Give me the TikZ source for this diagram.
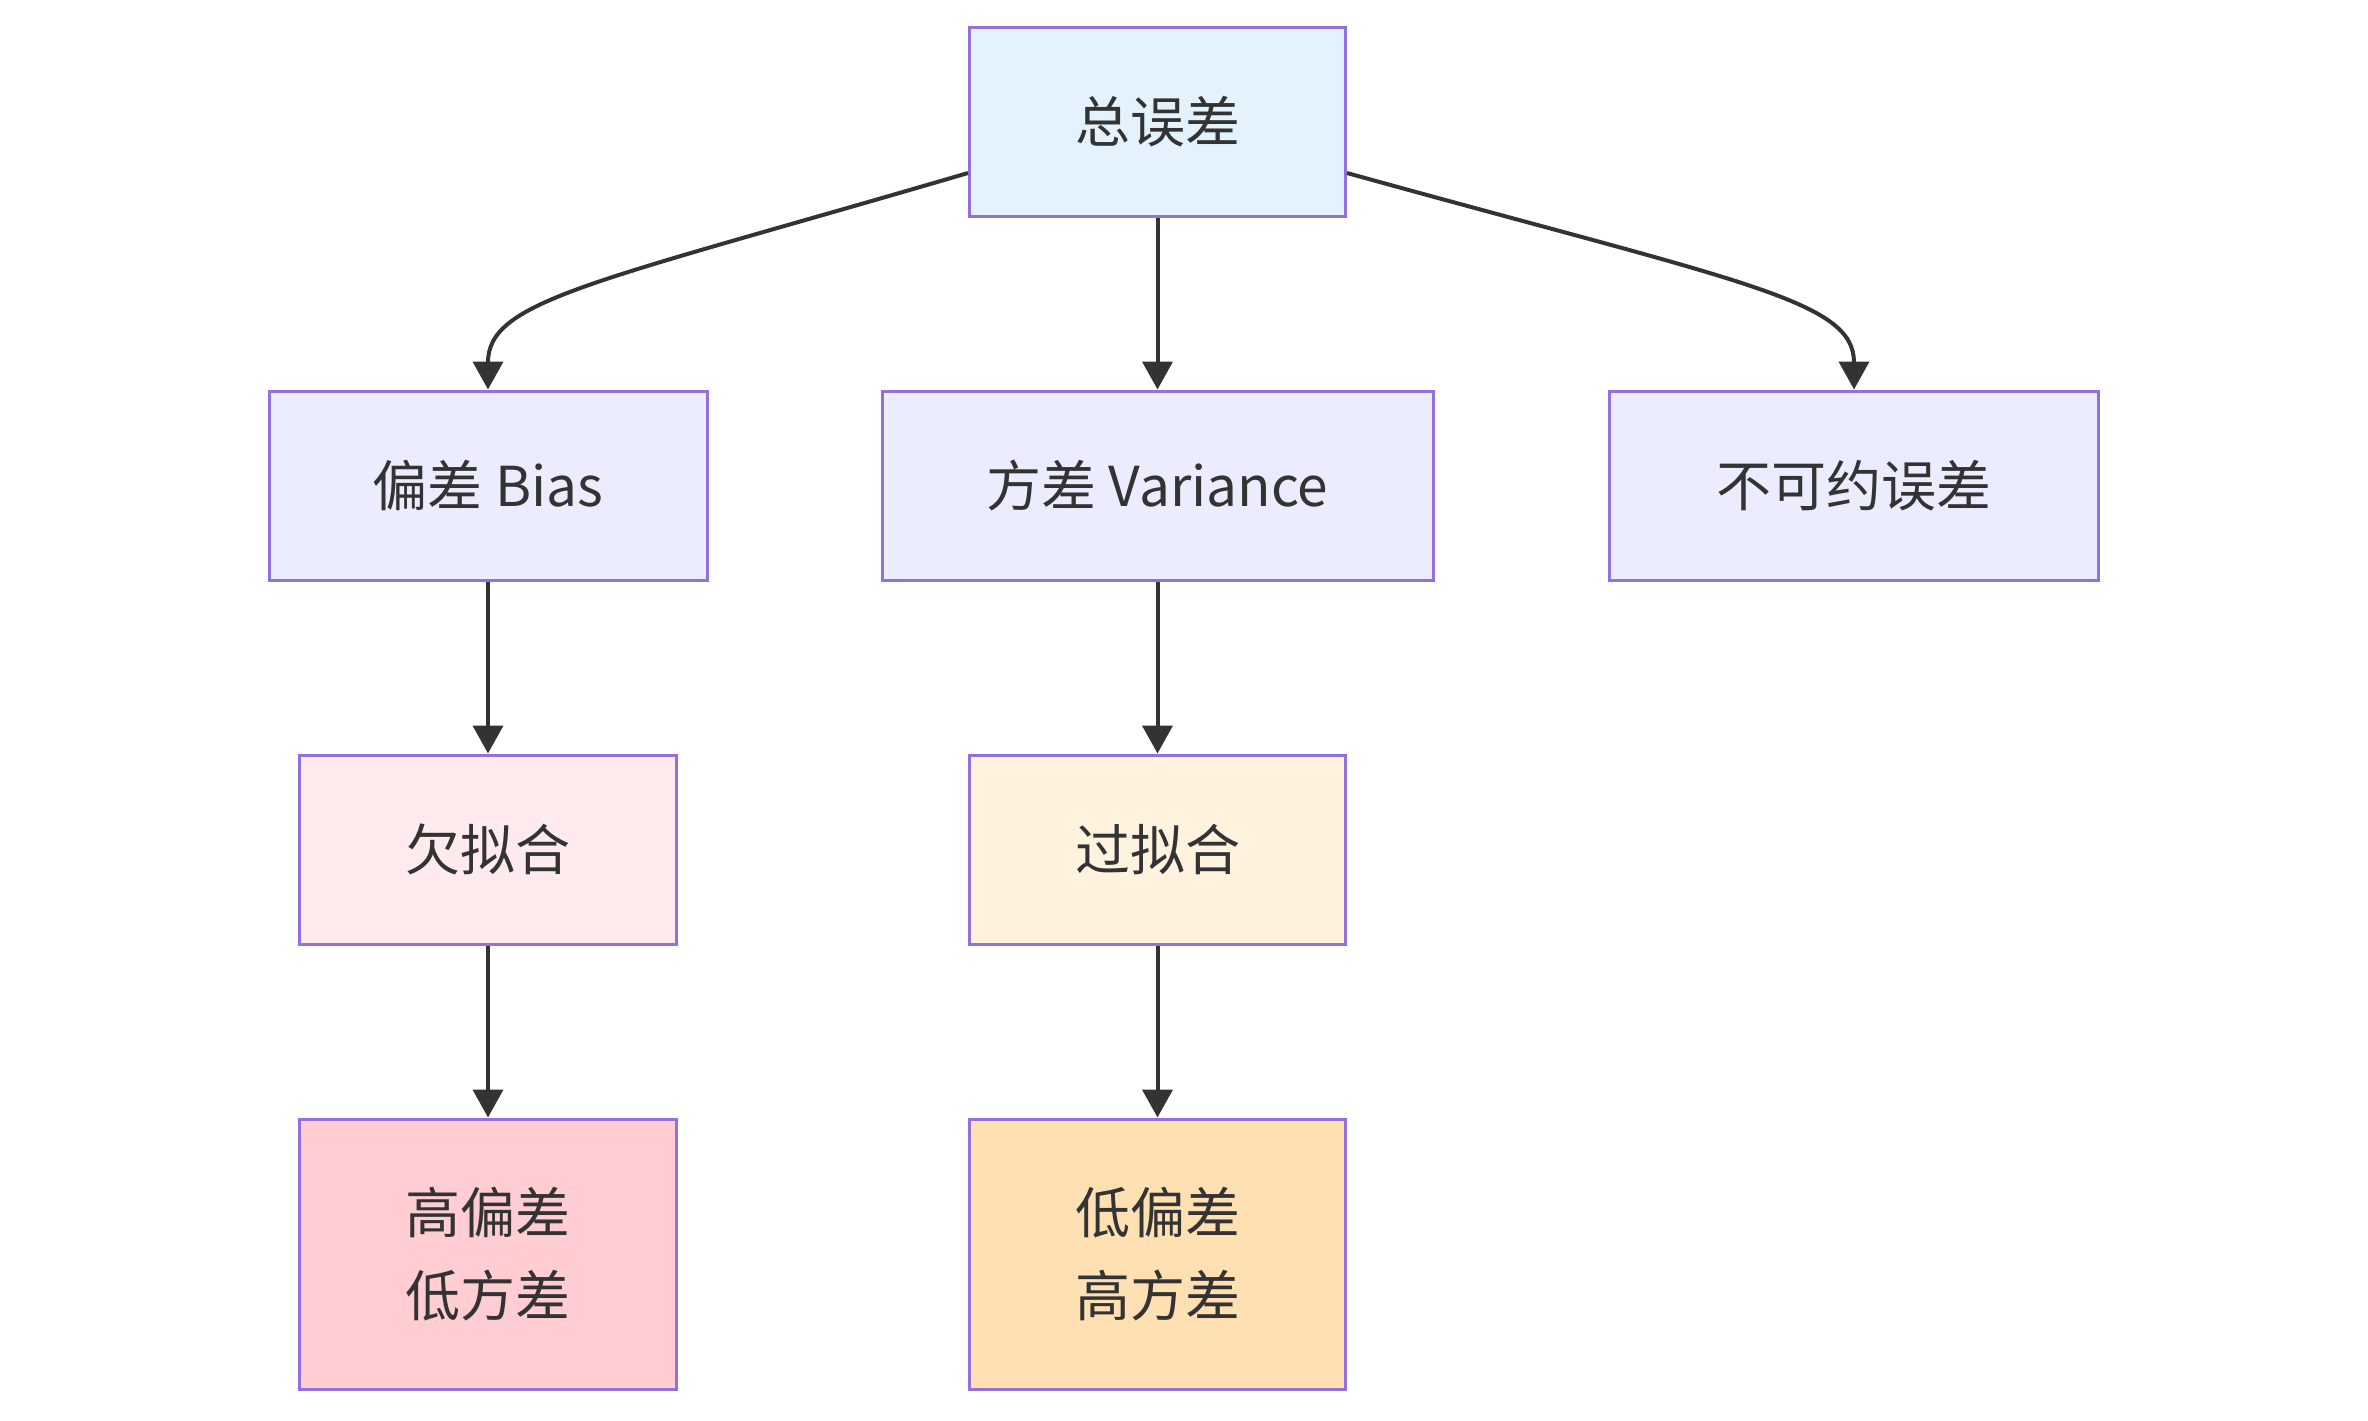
\documentclass[tikz,border=0pt]{standalone}
\usepackage{fontspec}
\setmainfont{Noto Sans CJK SC}
\usetikzlibrary{arrows.meta,calc}
\definecolor{txt}{HTML}{333333}
\definecolor{strk}{HTML}{9370DB}
\definecolor{cTop}{HTML}{E3F2FD}
\definecolor{cMid}{HTML}{ECECFF}
\definecolor{cUnder}{HTML}{FFEBEE}
\definecolor{cOver}{HTML}{FFF3E0}
\definecolor{cHB}{HTML}{FFCDD2}
\definecolor{cLB}{HTML}{FFE0B2}
\tikzset{
  box/.style={draw=strk, line width=1.5pt, rectangle, inner sep=0pt, align=center,
    text=txt, font=\fontsize{27.5pt}{41.5pt}\selectfont, minimum height=94.5pt},
  edge/.style={draw=txt, line width=2pt, -{Triangle[length=14pt,width=15pt]}},
}
\begin{document}
\begin{tikzpicture}[x=0.5pt,y=-0.5pt]
\useasboundingbox (0,0) rectangle (2368,1420);
\node[box, fill=cTop, minimum width=188pt] (top) at (1157.5,121.5) {总误差};
\node[box, fill=cMid, minimum width=219pt] (bias) at (488,485.5) {偏差 Bias};
\node[box, fill=cMid, minimum width=275.5pt] (var) at (1157.5,485.5) {方差 Variance};
\node[box, fill=cMid, minimum width=244.5pt] (irr) at (1854,485.5) {不可约误差};
\node[box, fill=cUnder, minimum width=188.5pt] (under) at (488,849.5) {欠拟合};
\node[box, fill=cOver, minimum width=188pt] (over) at (1157.5,849.5) {过拟合};
\node[box, fill=cHB, minimum width=188.5pt, minimum height=135pt] (hb) at (488,1254) {高偏差\\低方差};
\node[box, fill=cLB, minimum width=188pt, minimum height=135pt] (lb) at (1157.5,1254) {低偏差\\高方差};
\draw[edge] ($(top.west)+(0,51.5)$) .. controls (593,283) and (488,300) .. (bias.north);
\draw[edge] (top.south) -- (var.north);
\draw[edge] ($(top.east)+(0,51.5)$) .. controls (1744,283) and (1854,300) .. (irr.north);
\draw[edge] (bias.south) -- (under.north);
\draw[edge] (var.south) -- (over.north);
\draw[edge] (under.south) -- (hb.north);
\draw[edge] (over.south) -- (lb.north);
\end{tikzpicture}
\end{document}
